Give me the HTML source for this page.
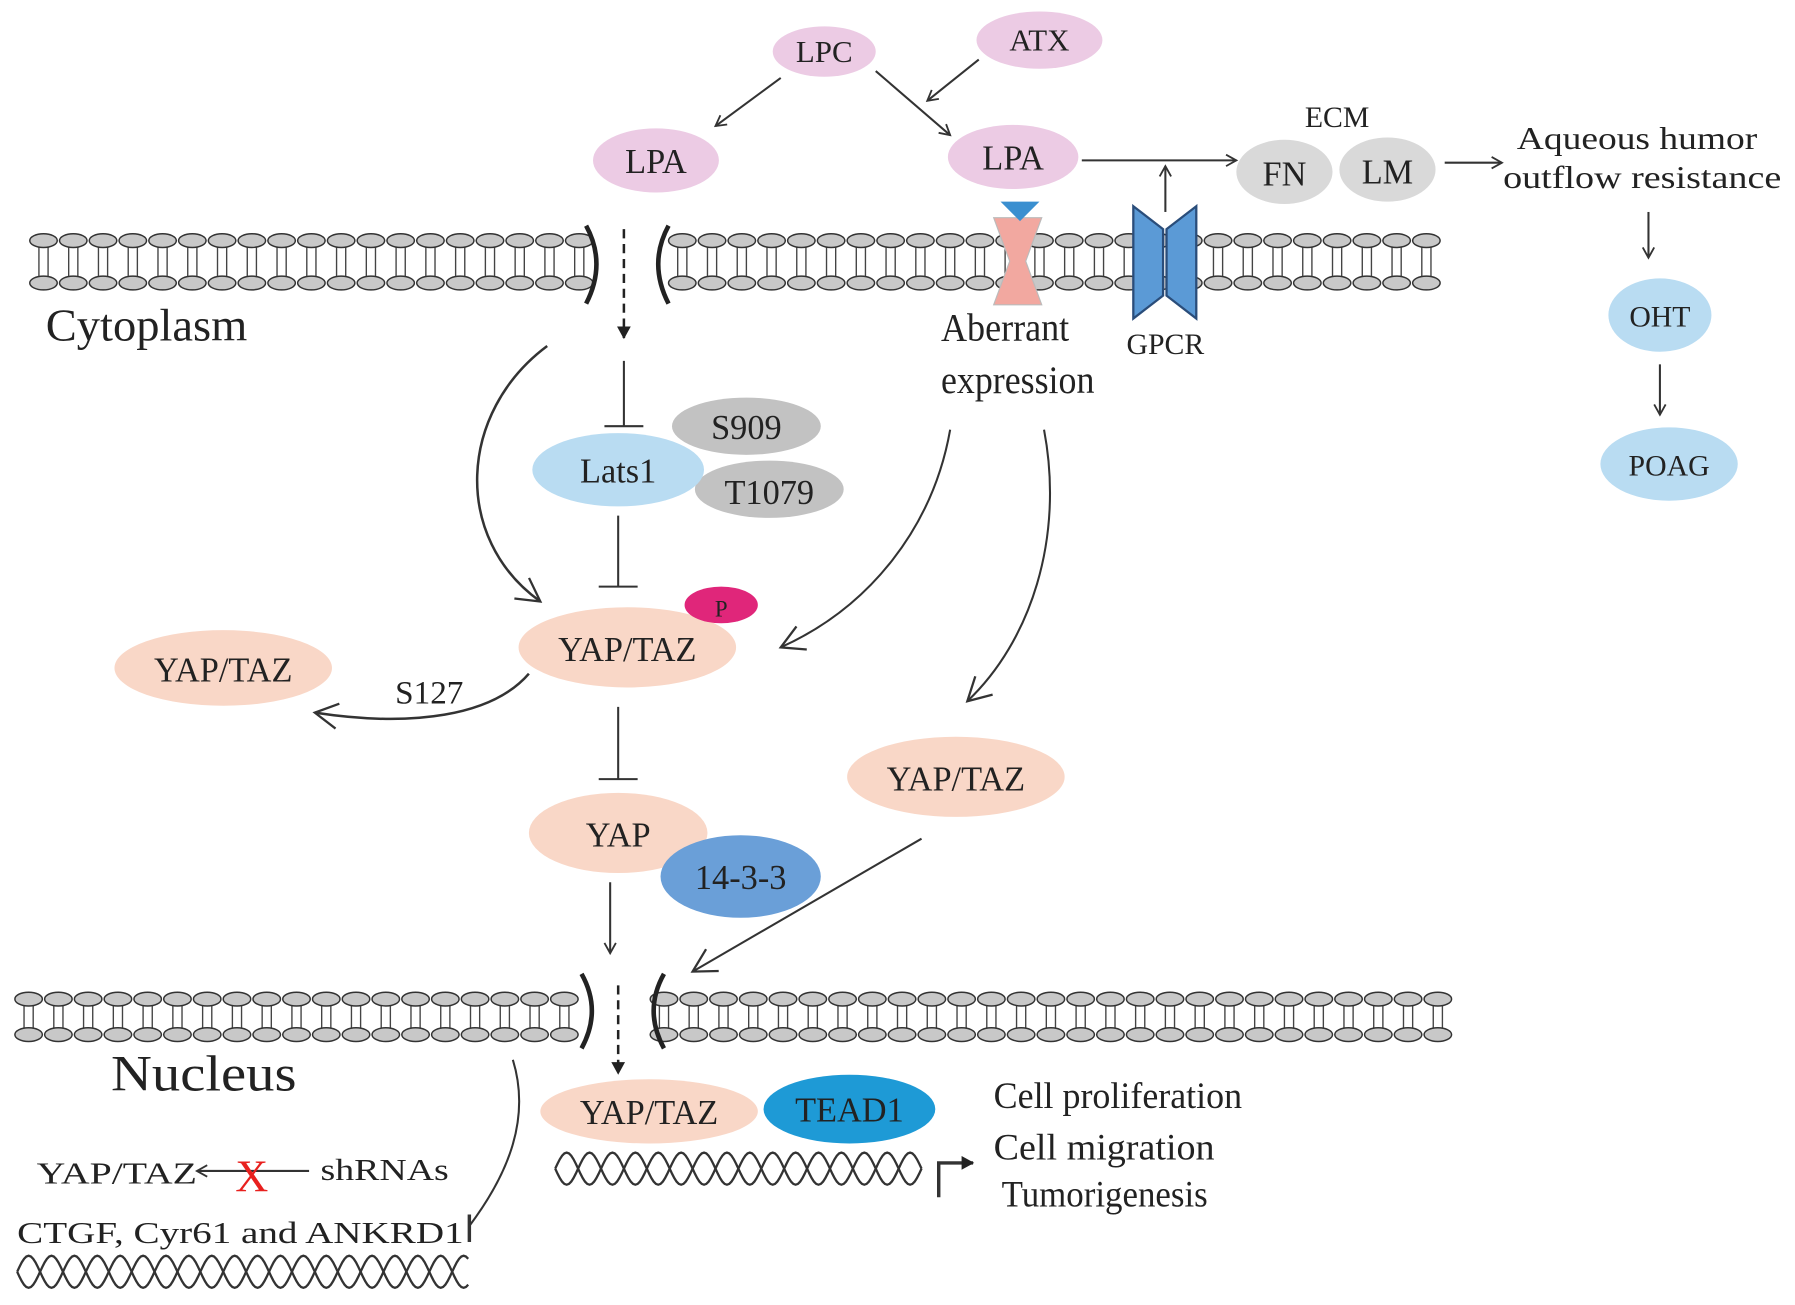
<!DOCTYPE html>
<html><head><meta charset="utf-8">
<style>
html,body{margin:0;padding:0;background:#fff;}
svg{display:block;}
text{font-family:"Liberation Serif",serif;fill:#222;}
</style></head>
<body>
<svg id="s" width="1795" height="1305" viewBox="0 0 1568 1139" preserveAspectRatio="none" xmlns="http://www.w3.org/2000/svg">
<defs>
<marker id="ah" markerWidth="12" markerHeight="12" refX="10" refY="6" orient="auto" markerUnits="userSpaceOnUse">
<path d="M1,1 L10,6 L1,11" fill="none" stroke="#333" stroke-width="1.6"/></marker>
<marker id="ahb" markerWidth="26" markerHeight="26" refX="22" refY="13" orient="auto" markerUnits="userSpaceOnUse">
<path d="M2,2 L22,13 L2,24" fill="none" stroke="#333" stroke-width="2"/></marker>
<marker id="ahs" markerWidth="14" markerHeight="14" refX="11" refY="7" orient="auto" markerUnits="userSpaceOnUse">
<path d="M1,1 L12,7 L1,13 Z" fill="#222"/></marker>
</defs>
<g id="mem"></g>
<g id="dna" fill="none" stroke="#333" stroke-width="2"></g>

<ellipse cx="720" cy="45" rx="45" ry="22" fill="#eccbe4"/>
<text x="720" y="54" font-size="27" text-anchor="middle">LPC</text>
<ellipse cx="908" cy="35" rx="55" ry="25" fill="#eccbe4"/>
<text x="908" y="44" font-size="27" text-anchor="middle">ATX</text>
<ellipse cx="573" cy="140" rx="55" ry="28" fill="#eccbe4"/>
<text x="573" y="151" font-size="30" text-anchor="middle">LPA</text>
<ellipse cx="885" cy="137" rx="57" ry="28" fill="#eccbe4"/>
<text x="885" y="148" font-size="30" text-anchor="middle">LPA</text>
<g stroke="#333" stroke-width="1.8" fill="none">
<line x1="682" y1="68" x2="625" y2="110" marker-end="url(#ah)"/>
<line x1="765" y1="62" x2="830" y2="118" marker-end="url(#ah)"/>
<line x1="855" y1="52" x2="810" y2="88" marker-end="url(#ah)"/>
<line x1="945" y1="140" x2="1080" y2="140" marker-end="url(#ah)"/>
<line x1="1018" y1="185" x2="1018" y2="145" marker-end="url(#ah)"/>
<line x1="1262" y1="142" x2="1312" y2="142" marker-end="url(#ah)"/>
<line x1="1440" y1="185" x2="1440" y2="225" marker-end="url(#ah)"/>
<line x1="1450" y1="318" x2="1450" y2="362" marker-end="url(#ah)"/>
</g>
<text x="1168" y="111" font-size="26" text-anchor="middle">ECM</text>
<ellipse cx="1122" cy="150" rx="42" ry="28" fill="#d9d9d9"/>
<text x="1122" y="162" font-size="30" text-anchor="middle">FN</text>
<ellipse cx="1212" cy="148" rx="42" ry="28" fill="#d9d9d9"/>
<text x="1212" y="160" font-size="30" text-anchor="middle">LM</text>
<text x="1325" y="130" font-size="28" textLength="210" lengthAdjust="spacingAndGlyphs">Aqueous humor</text>
<text x="1313" y="164" font-size="28" textLength="243" lengthAdjust="spacingAndGlyphs">outflow resistance</text>
<ellipse cx="1450" cy="275" rx="45" ry="32" fill="#b9dcf2"/>
<text x="1450" y="285" font-size="26" text-anchor="middle">OHT</text>
<ellipse cx="1458" cy="405" rx="60" ry="32" fill="#b9dcf2"/>
<text x="1458" y="415" font-size="26" text-anchor="middle">POAG</text>

<path d="M868,190 L910,190 L896,228 L910,266 L868,266 L882,228 Z" fill="#f2a8a0" stroke="#bbb" stroke-width="1"/>
<path d="M874,176 L908,176 L891,193 Z" fill="#3a8fd0"/>
<path d="M990,180 L1016,200 L1016,258 L990,278 Z M1045,180 L1019,200 L1019,258 L1045,278 Z" fill="#5b9ad6" stroke="#2a4d7a" stroke-width="2"/>
<text x="40" y="297" font-size="40" textLength="176" lengthAdjust="spacingAndGlyphs">Cytoplasm</text>
<text x="822" y="297" font-size="34" textLength="112" lengthAdjust="spacingAndGlyphs">Aberrant</text>
<text x="822" y="343" font-size="34" textLength="134" lengthAdjust="spacingAndGlyphs">expression</text>
<text x="1018" y="309" font-size="26" text-anchor="middle">GPCR</text>

<g fill="none" stroke="#222" stroke-width="4">
<path d="M512,197 Q530,230 512,265"/><path d="M584,197 Q566,230 584,265"/>
<path d="M508,850 Q526,882 508,915"/><path d="M580,850 Q562,882 580,915"/>
</g>
<g stroke="#222" stroke-width="2.2" fill="none">
<line x1="545" y1="200" x2="545" y2="295" stroke-dasharray="8,5" marker-end="url(#ahs)"/>
<line x1="540" y1="860" x2="540" y2="937" stroke-dasharray="8,5" marker-end="url(#ahs)"/>
</g>

<g stroke="#333" stroke-width="1.8" fill="none">
<line x1="545" y1="315" x2="545" y2="372"/><line x1="528" y1="372" x2="562" y2="372"/>
<line x1="540" y1="450" x2="540" y2="512"/><line x1="523" y1="512" x2="557" y2="512"/>
<line x1="540" y1="617" x2="540" y2="680"/><line x1="523" y1="680" x2="557" y2="680"/>
<path d="M478,302 C400,360 395,470 472,525" stroke-width="2.2" marker-end="url(#ahb)"/>
<path d="M830,375 C815,460 760,530 682,565" marker-end="url(#ahb)"/>
<path d="M912,375 C930,470 900,560 845,612" marker-end="url(#ahb)"/>
<path d="M462,588 C430,625 360,635 275,622" stroke-width="2.2" marker-end="url(#ahb)"/>
<line x1="533" y1="770" x2="533" y2="832" marker-end="url(#ah)"/>
<line x1="805" y1="732" x2="605" y2="848" marker-end="url(#ahb)"/>
<path d="M448,925 C465,980 440,1030 410,1070"/>
<line x1="410" y1="1060" x2="410" y2="1084" stroke-width="3"/>
<path d="M820,1045 L820,1015 L850,1015" stroke-width="3" marker-end="url(#ahs)"/>
<line x1="270" y1="1022" x2="172" y2="1022" marker-end="url(#ah)"/>
</g>
<ellipse cx="652" cy="372" rx="65" ry="25" fill="#c2c2c2"/>
<text x="652" y="383" font-size="30" text-anchor="middle">S909</text>
<ellipse cx="672" cy="427" rx="65" ry="25" fill="#c2c2c2"/>
<text x="672" y="440" font-size="30" text-anchor="middle">T1079</text>
<ellipse cx="540" cy="410" rx="75" ry="32" fill="#b9dcf2"/>
<text x="540" y="421" font-size="30" text-anchor="middle">Lats1</text>
<ellipse cx="548" cy="565" rx="95" ry="35" fill="#f9d7c7"/>
<text x="548" y="577" font-size="30" text-anchor="middle">YAP/TAZ</text>
<ellipse cx="630" cy="528" rx="32" ry="16" fill="#e0267a"/>
<text x="630" y="538" font-size="20" text-anchor="middle">P</text>
<ellipse cx="195" cy="583" rx="95" ry="33" fill="#f9d7c7"/>
<text x="195" y="595" font-size="30" text-anchor="middle">YAP/TAZ</text>
<text x="375" y="614" font-size="29" text-anchor="middle">S127</text>
<ellipse cx="540" cy="727" rx="78" ry="35" fill="#f9d7c7"/>
<text x="540" y="739" font-size="30" text-anchor="middle">YAP</text>
<ellipse cx="647" cy="765" rx="70" ry="36" fill="#6a9fd8"/>
<text x="647" y="776" font-size="30" text-anchor="middle">14-3-3</text>
<ellipse cx="835" cy="678" rx="95" ry="35" fill="#f9d7c7"/>
<text x="835" y="690" font-size="30" text-anchor="middle">YAP/TAZ</text>

<text x="97" y="952" font-size="44" textLength="162" lengthAdjust="spacingAndGlyphs">Nucleus</text>
<ellipse cx="567" cy="970" rx="95" ry="28" fill="#f9d7c7"/>
<text x="567" y="981" font-size="30" text-anchor="middle">YAP/TAZ</text>
<ellipse cx="742" cy="968" rx="75" ry="30" fill="#1e9ad6"/>
<text x="742" y="979" font-size="30" text-anchor="middle">TEAD1</text>
<text x="868" y="967" font-size="32" textLength="217" lengthAdjust="spacingAndGlyphs">Cell proliferation</text>
<text x="868" y="1012" font-size="32" textLength="193" lengthAdjust="spacingAndGlyphs">Cell migration</text>
<text x="875" y="1053" font-size="32" textLength="180" lengthAdjust="spacingAndGlyphs">Tumorigenesis</text>
<text x="32" y="1033" font-size="27" textLength="140" lengthAdjust="spacingAndGlyphs">YAP/TAZ</text>
<text x="220" y="1040" font-size="40" text-anchor="middle" style="fill:#e8201e">X</text>
<text x="280" y="1030" font-size="27" textLength="112" lengthAdjust="spacingAndGlyphs">shRNAs</text>
<text x="15" y="1085" font-size="27" textLength="390" lengthAdjust="spacingAndGlyphs">CTGF, Cyr61 and ANKRD1</text>
</svg>
<script>
var NS="http://www.w3.org/2000/svg";
var mem=document.getElementById("mem");
function el(t,a,p){var e=document.createElementNS(NS,t);for(var k in a)e.setAttribute(k,a[k]);p.appendChild(e);return e;}
function membrane(x0,x1,yt,yb){
  for(var x=x0;x<=x1;x+=26){
    el("line",{x1:x-4,y1:yt+5,x2:x-4,y2:yb-5,stroke:"#444","stroke-width":1.2},mem);
    el("line",{x1:x+4,y1:yt+5,x2:x+4,y2:yb-5,stroke:"#444","stroke-width":1.2},mem);
  }
  for(var x=x0;x<=x1;x+=26){
    el("ellipse",{cx:x,cy:yt,rx:12,ry:6,fill:"#c8c8c8",stroke:"#333","stroke-width":1.3},mem);
    el("ellipse",{cx:x,cy:yb,rx:12,ry:6,fill:"#c8c8c8",stroke:"#333","stroke-width":1.3},mem);
  }
}
membrane(38,510,210,247);
membrane(596,1250,210,247);
membrane(25,495,872,903);
membrane(580,1270,872,903);
var dna=document.getElementById("dna");
function helix(x0,x1,yc,amp,per){
  var a="",b="";
  for(var x=x0;x<=x1;x+=2){
    var t=(x-x0)/per*2*Math.PI;
    a+=(x==x0?"M":"L")+x+","+(yc+amp*Math.sin(t)).toFixed(1);
    b+=(x==x0?"M":"L")+x+","+(yc-amp*Math.sin(t)).toFixed(1);
  }
  el("path",{d:a},dna);el("path",{d:b},dna);
}
helix(485,805,1020,14,40);
helix(15,410,1110,14,40);
</script>
</body></html>
